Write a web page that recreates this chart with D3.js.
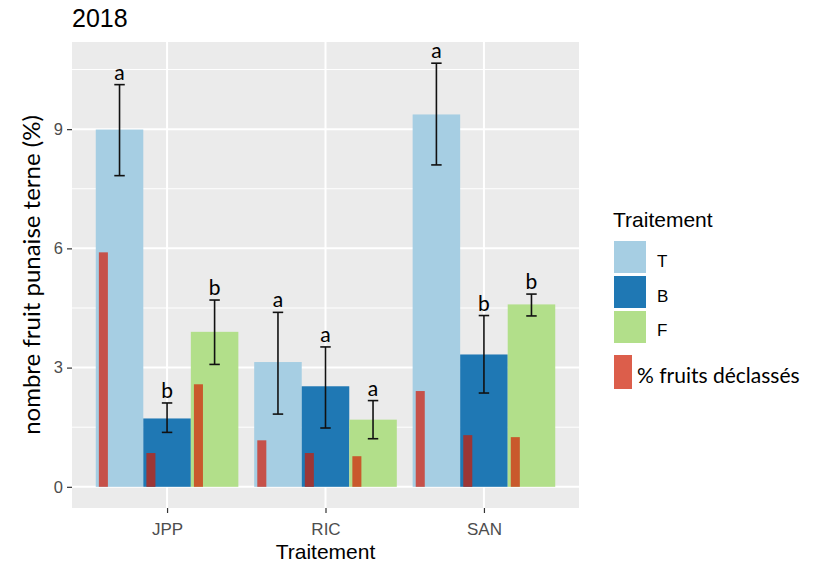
<!DOCTYPE html>
<html>
<head>
<meta charset="utf-8">
<script src="https://cdn.jsdelivr.net/npm/d3@7"></script>
<style>
  html, body { margin: 0; padding: 0; background: #fff; }
  svg { display: block; }
</style>
</head>
<body>
<svg id="chart" width="819" height="565"></svg>
<script>
// Sites and treatment groups
const sites = ["JPP", "RIC", "SAN"];
const groups = ["T", "B", "F"];

// Mean number of fruits with stink-bug damage (%), one array per treatment (order: JPP, RIC, SAN)
const meanT = [8.99, 3.14, 9.37];
const meanB = [1.72, 2.53, 3.33];
const meanF = [3.90, 1.69, 4.59];

// Error bar limits
const lowT = [7.83, 1.83, 8.10];
const highT = [10.12, 4.39, 10.66];
const lowB = [1.37, 1.48, 2.36];
const highB = [2.11, 3.52, 4.31];
const lowF = [3.08, 1.21, 4.30];
const highF = [4.70, 2.17, 4.85];

// Significance letters
const lettersT = ["a", "a", "a"];
const lettersB = ["b", "a", "b"];
const lettersF = ["b", "a", "b"];

// % downgraded fruits
const downT = [5.90, 1.17, 2.41];
const downB = [0.85, 0.85, 1.30];
const downF = [2.58, 0.77, 1.25];

// Y axis ticks
const yTicks = [0, 3, 6, 9];
const yMinor = [1.5, 4.5, 7.5, 10.5];

const byGroup = {
  T: { mean: meanT, low: lowT, high: highT, letters: lettersT, down: downT },
  B: { mean: meanB, low: lowB, high: highB, letters: lettersB, down: downB },
  F: { mean: meanF, low: lowF, high: highF, letters: lettersF, down: downF }
};

const rows = [];
sites.forEach((s, i) => {
  groups.forEach(g => {
    const d = byGroup[g];
    rows.push({ site: s, group: g, mean: d.mean[i], low: d.low[i], high: d.high[i],
                letter: d.letters[i], down: d.down[i] });
  });
});

const fillColor = { T: "#A6CEE3", B: "#1F78B4", F: "#B2DF8A" };
const downColor = { T: "#C6514A", B: "#9C3636", F: "#C9592C" };

const svg = d3.select("#chart");
const panel = { left: 72, right: 579, top: 42, bottom: 508 };

const yMax = d3.max(rows, d => d.high);
const pad = yMax * 0.05;
const y = d3.scaleLinear().domain([-pad, yMax + pad]).range([panel.bottom, panel.top]);
const x = d3.scalePoint().domain(sites).range([panel.left, panel.right]).padding(0.6);
const step = x.step();
const xg = d3.scaleBand().domain(groups).range([-0.45 * step, 0.45 * step]).padding(0);
const bw = xg.bandwidth();

// Panel background
svg.append("rect")
  .attr("x", panel.left).attr("y", panel.top)
  .attr("width", panel.right - panel.left).attr("height", panel.bottom - panel.top)
  .attr("fill", "#EBEBEB");

// Grid
const grid = svg.append("g");
grid.selectAll(".minor").data(yMinor).join("line")
  .attr("x1", panel.left).attr("x2", panel.right)
  .attr("y1", d => y(d)).attr("y2", d => y(d))
  .attr("stroke", "#fff").attr("stroke-width", 1);
grid.selectAll(".major").data(yTicks).join("line")
  .attr("x1", panel.left).attr("x2", panel.right)
  .attr("y1", d => y(d)).attr("y2", d => y(d))
  .attr("stroke", "#fff").attr("stroke-width", 2);
grid.selectAll(".vmajor").data(sites).join("line")
  .attr("x1", d => x(d)).attr("x2", d => x(d))
  .attr("y1", panel.top).attr("y2", panel.bottom)
  .attr("stroke", "#fff").attr("stroke-width", 2);

// Bars
svg.append("g").selectAll("rect").data(rows).join("rect")
  .attr("x", d => x(d.site) + xg(d.group))
  .attr("y", d => y(d.mean))
  .attr("width", bw)
  .attr("height", d => y(0) - y(d.mean))
  .attr("fill", d => fillColor[d.group]);

// Downgraded fruit bars
svg.append("g").selectAll("rect").data(rows).join("rect")
  .attr("x", d => x(d.site) + xg(d.group) + 0.065 * bw)
  .attr("y", d => y(d.down))
  .attr("width", 0.19 * bw)
  .attr("height", d => y(0) - y(d.down))
  .attr("fill", d => downColor[d.group]);

// Error bars
const eb = svg.append("g").attr("stroke", "#111").attr("stroke-width", 1.6).attr("fill", "none");
const cap = 0.11 * bw;
rows.forEach(d => {
  const cx = x(d.site) + xg(d.group) + bw / 2;
  eb.append("line").attr("x1", cx).attr("x2", cx).attr("y1", y(d.low)).attr("y2", y(d.high));
  eb.append("line").attr("x1", cx - cap).attr("x2", cx + cap).attr("y1", y(d.low)).attr("y2", y(d.low));
  eb.append("line").attr("x1", cx - cap).attr("x2", cx + cap).attr("y1", y(d.high)).attr("y2", y(d.high));
});

// Significance letters
svg.append("g").selectAll("text").data(rows).join("text")
  .attr("x", d => x(d.site) + xg(d.group) + bw / 2)
  .attr("y", d => y(d.high) - 5)
  .attr("text-anchor", "middle")
  .attr("font-family", "Lato, 'Open Sans', sans-serif")
  .attr("font-size", 21)
  .attr("fill", "#000")
  .text(d => d.letter);

// Y axis
const yAxis = d3.axisLeft(y).tickValues(yTicks).tickSize(5).tickPadding(4).tickFormat(d3.format("d"));
const ya = svg.append("g").attr("transform", `translate(${panel.left},0)`).call(yAxis);
ya.select(".domain").remove();
ya.selectAll(".tick line").attr("stroke", "#333").attr("stroke-width", 1.2);
ya.selectAll(".tick text")
  .attr("font-family", "'Liberation Sans', Arial, sans-serif")
  .attr("font-size", 16.5).attr("fill", "#4D4D4D");

// X axis
const xAxis = d3.axisBottom(x).tickSize(5).tickPadding(10);
const xa = svg.append("g").attr("transform", `translate(0,${panel.bottom})`).call(xAxis);
xa.select(".domain").remove();
xa.selectAll(".tick line").attr("stroke", "#333").attr("stroke-width", 1.2);
xa.selectAll(".tick text")
  .attr("font-family", "'Liberation Sans', Arial, sans-serif")
  .attr("font-size", 17).attr("fill", "#4D4D4D");

// Titles
svg.append("text")
  .attr("x", panel.left).attr("y", 27)
  .attr("font-family", "'Liberation Sans', Arial, sans-serif")
  .attr("font-size", 25).attr("fill", "#000")
  .text("2018");

svg.append("text")
  .attr("x", (panel.left + panel.right) / 2).attr("y", 559)
  .attr("text-anchor", "middle")
  .attr("font-family", "'Liberation Sans', Arial, sans-serif")
  .attr("font-size", 21).attr("fill", "#000")
  .text("Traitement");

svg.append("text")
  .attr("transform", `translate(40,${(panel.top + panel.bottom) / 2}) rotate(-90)`)
  .attr("text-anchor", "middle")
  .attr("font-family", "Lato, 'Open Sans', sans-serif")
  .attr("font-size", 24).attr("fill", "#000")
  .text("nombre fruit punaise terne (%)");

// Legend
const lg = svg.append("g");
lg.append("text")
  .attr("x", 613).attr("y", 227)
  .attr("font-family", "'Liberation Sans', Arial, sans-serif")
  .attr("font-size", 21).attr("fill", "#000")
  .text("Traitement");
groups.forEach((g, i) => {
  lg.append("rect")
    .attr("x", 614).attr("y", 241 + i * 35)
    .attr("width", 32).attr("height", 32)
    .attr("fill", fillColor[g]);
  lg.append("text")
    .attr("x", 657).attr("y", 267 + i * 34.5)
    .attr("font-family", "'Liberation Sans', Arial, sans-serif")
    .attr("font-size", 17).attr("fill", "#000")
    .text(g);
});
lg.append("rect")
  .attr("x", 614).attr("y", 355)
  .attr("width", 18).attr("height", 34)
  .attr("fill", "#DC5E4B");
lg.append("text")
  .attr("x", 637).attr("y", 383)
  .attr("font-family", "Lato, 'Open Sans', sans-serif")
  .attr("font-size", 21).attr("fill", "#000")
  .text("% fruits déclassés");
</script>
</body>
</html>
